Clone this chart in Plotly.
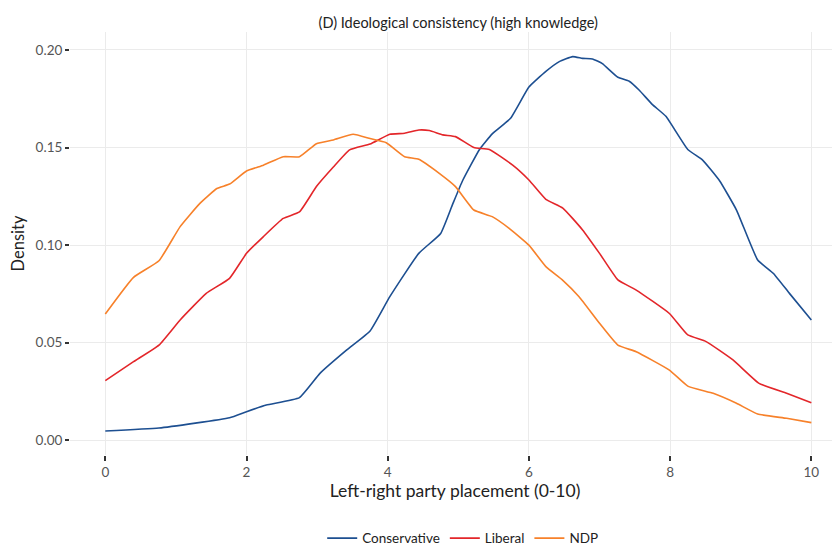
import plotly.graph_objects as go

# Conservative density
cons_x = [0.0, 0.76, 1.76, 2.0, 2.28, 2.75, 3.04, 3.42, 3.75, 4.03, 4.44, 4.75, 4.92, 5.06, 5.30,
          5.48, 5.74, 6.0, 6.24, 6.43, 6.62, 6.76, 6.90, 7.04, 7.26, 7.42, 7.56, 7.75, 7.94, 8.25,
          8.46, 8.70, 8.94, 9.24, 9.46, 9.69, 10.0]
cons_y = [0.0048, 0.0063, 0.0116, 0.0147, 0.0181, 0.0219, 0.0343, 0.0463, 0.0560, 0.0736, 0.0958,
          0.1060, 0.1210, 0.1330, 0.1490, 0.1570, 0.1650, 0.1810, 0.1890, 0.1940, 0.1966, 0.1957,
          0.1954, 0.1930, 0.1860, 0.1840, 0.1795, 0.1720, 0.1660, 0.1490, 0.1436, 0.1330, 0.1180,
          0.0924, 0.0856, 0.0753, 0.0617]

# Liberal density
lib_x = [0.0, 0.40, 0.76, 1.06, 1.43, 1.76, 2.0, 2.24, 2.52, 2.75, 2.99, 3.23, 3.46, 3.75, 4.03,
         4.24, 4.44, 4.59, 4.78, 4.96, 5.22, 5.44, 5.77, 6.0, 6.24, 6.48, 6.76, 7.0, 7.26, 7.52,
         7.99, 8.25, 8.51, 8.89, 9.26, 9.65, 10.0]
lib_y = [0.0306, 0.0403, 0.0488, 0.0617, 0.0753, 0.0830, 0.0958, 0.1044, 0.1137, 0.1170, 0.1300,
         0.1400, 0.1488, 0.1518, 0.1568, 0.1573, 0.1590, 0.1587, 0.1565, 0.1556, 0.1500, 0.1490,
         0.1410, 0.1334, 0.1235, 0.1190, 0.1078, 0.0958, 0.0822, 0.0770, 0.0650, 0.0540, 0.0506,
         0.0412, 0.0292, 0.0241, 0.0193]

# NDP density
ndp_x = [0.0, 0.40, 0.76, 1.06, 1.34, 1.58, 1.76, 2.0, 2.24, 2.52, 2.75, 2.99, 3.23, 3.51, 3.75,
         3.98, 4.24, 4.44, 4.73, 4.96, 5.22, 5.48, 5.72, 6.0, 6.24, 6.48, 6.71, 7.0, 7.26, 7.52,
         7.99, 8.25, 8.61, 8.94, 9.24, 9.65, 10.0]
ndp_y = [0.0647, 0.0835, 0.0920, 0.1095, 0.1214, 0.1290, 0.1313, 0.1380, 0.1410, 0.1453, 0.1453,
         0.1520, 0.1539, 0.1568, 0.1546, 0.1525, 0.1453, 0.1440, 0.1368, 0.1300, 0.1180, 0.1146,
         0.1086, 0.1000, 0.0890, 0.0820, 0.0736, 0.0600, 0.0488, 0.0454, 0.0360, 0.0278, 0.0241,
         0.0190, 0.0135, 0.0113, 0.0091]

series_names = ["Conservative", "Liberal", "NDP"]
series_colors = ["#1D4F91", "#E3262A", "#F7812A"]

x_ticks = [0, 2, 4, 6, 8, 10]
y_ticks = [0.00, 0.05, 0.10, 0.15, 0.20]
y_tick_labels = ["0.00", "0.05", "0.10", "0.15", "0.20"]

FONT = "Lato, 'Open Sans', sans-serif"

fig = go.Figure()
for name, xs, ys, col in zip(series_names, [cons_x, lib_x, ndp_x], [cons_y, lib_y, ndp_y], series_colors):
    fig.add_trace(go.Scatter(x=xs, y=ys, mode="lines", name=name,
                             line=dict(color=col, width=1.6, shape="spline", smoothing=0.4)))

fig.update_layout(
    width=840, height=550,
    paper_bgcolor="white", plot_bgcolor="white",
    margin=dict(l=62, r=8, t=24, b=103, autoexpand=False),
    font=dict(family=FONT, color="#222222"),
    title=dict(text="(D) Ideological consistency (high knowledge)", x=0.536, xanchor="center",
               y=0.973, yanchor="middle", font=dict(size=14.5, color="#222222")),
    showlegend=True,
    legend=dict(orientation="h", x=0.51, xanchor="center", y=-0.197, yanchor="middle",
                font=dict(size=13.5, color="#222222"), itemwidth=30, traceorder="normal"),
)
fig.update_xaxes(
    range=[-0.5, 10.406], tickmode="array", tickvals=x_ticks, ticktext=[str(v) for v in x_ticks],
    showgrid=True, gridcolor="#EBEBEB", gridwidth=1.2, zeroline=False, showline=False,
    automargin=False,
    ticks="outside", ticklen=5, tickwidth=1.5, tickcolor="#333333",
    tickfont=dict(size=13.5, color="#555555"),
    title=dict(text="Left-right party placement (0-10)", font=dict(size=17.5, color="#222222"), standoff=4),
)
fig.update_yaxes(
    range=[-0.0075, 0.2092], tickmode="array", tickvals=y_ticks, ticktext=y_tick_labels,
    showgrid=True, gridcolor="#EBEBEB", gridwidth=1.2, zeroline=False, showline=False,
    automargin=False,
    ticks="outside", ticklen=4, tickwidth=1.5, tickcolor="#333333",
    tickfont=dict(size=13.5, color="#555555"),
    title=dict(text="Density", font=dict(size=16.5, color="#222222"), standoff=6),
)

fig.write_html("out.html")
